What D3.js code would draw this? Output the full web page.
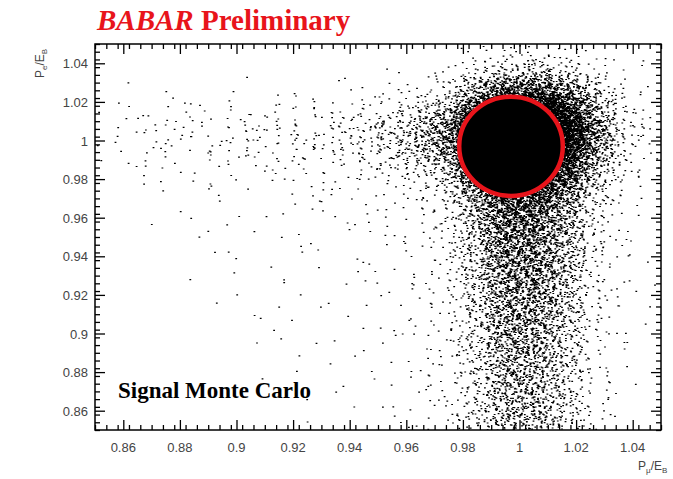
<!DOCTYPE html>
<html><head><meta charset="utf-8">
<script src="https://cdn.jsdelivr.net/npm/d3@7"></script>
<style>body{margin:0;background:#fff}</style>
</head><body>
<svg id="chart" width="673" height="479"></svg>
<script>
// bin edges (lower edges) of the density grid
const xBins = d3.range(20).map(i => 0.85 + i * 0.01);
const yBins = [1.04,1.03,1.02,1.01,1.00,0.99,0.98,0.97,0.96,0.95,0.94,0.93,0.92,0.91,0.90,0.89,0.88,0.87,0.86,0.85];
// estimated entries per 0.01 x 0.01 cell, rows top to bottom
const counts = [
  [0,0,0,0,0,0,0,0,0,0,0,0,1,4,9,12,7,3,1,0],
  [0,0,0,0,0,0,0,0,0,0,1,2,7,25,55,60,40,15,4,1],
  [0,1,1,1,1,1,2,2,2,3,5,10,30,130,320,350,220,65,10,2],
  [2,3,4,4,5,5,6,6,8,12,20,38,90,400,1100,1100,550,140,22,4],
  [3,5,7,7,8,9,10,12,15,25,42,80,190,650,1600,1600,800,220,30,5],
  [2,4,5,5,7,7,9,10,13,20,34,65,150,560,1400,1400,650,170,25,4],
  [1,2,3,3,4,4,5,6,6,9,14,24,70,350,950,950,420,95,13,3],
  [0,1,1,1,2,2,2,3,3,4,6,10,28,170,420,420,220,45,7,2],
  [0,0,1,1,1,1,2,2,2,3,4,6,17,100,260,260,130,28,5,1],
  [0,0,1,1,1,1,1,2,2,2,3,5,13,78,210,210,105,22,4,1],
  [0,0,0,1,1,1,1,1,2,2,3,5,11,64,185,185,92,20,4,1],
  [0,0,0,1,1,1,1,1,1,2,2,4,10,57,170,170,85,17,4,1],
  [0,0,0,0,1,1,1,1,1,2,2,4,9,50,155,155,78,15,3,1],
  [0,0,0,0,1,1,1,1,1,1,2,4,7,45,140,140,70,14,3,1],
  [0,0,0,0,0,1,1,1,1,1,2,4,7,42,126,126,63,13,3,0],
  [0,0,0,0,0,1,1,1,1,1,2,4,7,40,112,112,56,11,3,0],
  [0,0,0,0,0,0,1,1,1,1,2,4,6,35,100,100,50,10,3,0],
  [0,0,0,0,0,0,1,0,1,1,2,4,6,31,92,92,45,10,2,0],
  [0,0,0,0,0,0,0,1,1,1,2,4,6,31,85,85,42,9,2,0],
  [0,0,0,0,0,0,0,1,1,1,1,4,6,31,85,85,42,9,2,0]
];
const majorTicks = [0.86,0.88,0.9,0.92,0.94,0.96,0.98,1,1.02,1.04];
const cut = {cx: 0.997, cy: 0.997, rx: 0.0183, ry: 0.0257};

const svg = d3.select("#chart");
const x = d3.scaleLinear().domain([0.85, 1.05]).range([95, 661]);
const y = d3.scaleLinear().domain([0.85, 1.05]).range([430, 44]);

svg.append("clipPath").attr("id", "plot").append("rect")
    .attr("x", x(0.85)).attr("y", y(1.05)).attr("width", x(1.05) - x(0.85)).attr("height", y(0.85) - y(1.05));

// spread each cell's entries with a 2D Halton sequence; the spread is wider than
// the cell so neighbouring cells blend instead of showing hard edges
function halton(i, b) { let f = 1, r = 0; while (i > 0) { f /= b; r += f * (i % b); i = Math.floor(i / b); } return r; }
const spread = 2.0, w = 0.01;
let d = "";
counts.forEach((row, r) => row.forEach((n, c) => {
    const seed = 1 + r * 997 + c * 131;
    const cx = xBins[c] + w / 2, cy = yBins[r] + w / 2;
    for (let k = 0; k < n; k++) {
        const u = halton(seed + k, 2) + halton(seed + k, 5) - 1;
        const v = halton(seed + k, 3) + halton(seed + k, 7) - 1;
        const px = x(cx + w * spread / 2 * u);
        const py = y(cy + w * spread / 2 * v);
        d += `M${px.toFixed(1)},${py.toFixed(1)}h1.8v1.2h-1.8z`;
    }
}));
svg.append("path").attr("d", d).attr("fill", "#000").attr("clip-path", "url(#plot)");

// frame
svg.append("rect").attr("x", x(0.85)).attr("y", y(1.05))
    .attr("width", x(1.05) - x(0.85)).attr("height", y(0.85) - y(1.05))
    .attr("fill", "none").attr("stroke", "#000").attr("stroke-width", 1.5);

// inward ticks on all four sides
const minor = d3.range(0, 51).map(i => 0.85 + i * 0.004).filter(v => !majorTicks.some(m => Math.abs(m - v) < 1e-6));
const sides = [
    [d3.axisBottom, x, `translate(0,${y(0.85)})`],
    [d3.axisTop, x, `translate(0,${y(1.05)})`],
    [d3.axisLeft, y, `translate(${x(0.85)},0)`],
    [d3.axisRight, y, `translate(${x(1.05)},0)`]
];
sides.forEach(([make, sc, tr]) => {
    [[majorTicks, -10], [minor, -5]].forEach(([vals, size]) => {
        const g = svg.append("g").attr("transform", tr)
            .call(make(sc).tickValues(vals).tickSize(size).tickFormat(""));
        g.select(".domain").remove();
        g.selectAll(".tick line").attr("stroke-width", 1.3);
    });
});

const fmt = v => d3.format("~g")(v);
svg.append("g").selectAll("text").data(majorTicks).join("text")
    .attr("x", v => x(v)).attr("y", 452).attr("text-anchor", "middle")
    .attr("font-family", "Liberation Sans, Arial").attr("font-size", 13).attr("fill", "#444").text(fmt);
svg.append("g").selectAll("text").data(majorTicks).join("text")
    .attr("x", 88).attr("y", v => y(v) + 5).attr("text-anchor", "end")
    .attr("font-family", "Liberation Sans, Arial").attr("font-size", 13).attr("fill", "#444").text(fmt);

// red selection circle
svg.append("ellipse").attr("cx", x(cut.cx)).attr("cy", y(cut.cy))
    .attr("rx", x(cut.cx + cut.rx) - x(cut.cx)).attr("ry", y(cut.cy) - y(cut.cy + cut.ry))
    .attr("fill", "#000").attr("stroke", "#e8141b").attr("stroke-width", 4.5);

// labels
const title = svg.append("text").attr("x", 97).attr("y", 30)
    .attr("font-family", "Liberation Serif, Times New Roman").attr("font-weight", "bold")
    .attr("font-size", 29).attr("fill", "#e8141b");
title.append("tspan").attr("font-style", "italic").text("BABAR");
title.append("tspan").text(" Preliminary");

svg.append("text").attr("x", 118).attr("y", 398)
    .attr("font-family", "Liberation Serif, Times New Roman").attr("font-weight", "bold")
    .attr("font-size", 23).text("Signal Monte Carlo");

const yl = svg.append("text").attr("transform", "translate(44,78) rotate(-90)")
    .attr("font-family", "Liberation Sans, Arial").attr("font-size", 12).attr("fill", "#444");
yl.append("tspan").text("P");
yl.append("tspan").attr("font-size", 8).attr("dy", 3).text("e");
yl.append("tspan").attr("dy", -3).text("/E");
yl.append("tspan").attr("font-size", 8).attr("dy", 3).text("B");

const xl = svg.append("text").attr("x", 638).attr("y", 470)
    .attr("font-family", "Liberation Sans, Arial").attr("font-size", 12).attr("fill", "#444");
xl.append("tspan").text("P");
xl.append("tspan").attr("font-size", 8).attr("dy", 3).text("μ");
xl.append("tspan").attr("dy", -3).text("/E");
xl.append("tspan").attr("font-size", 8).attr("dy", 3).text("B");
</script>
</body></html>
